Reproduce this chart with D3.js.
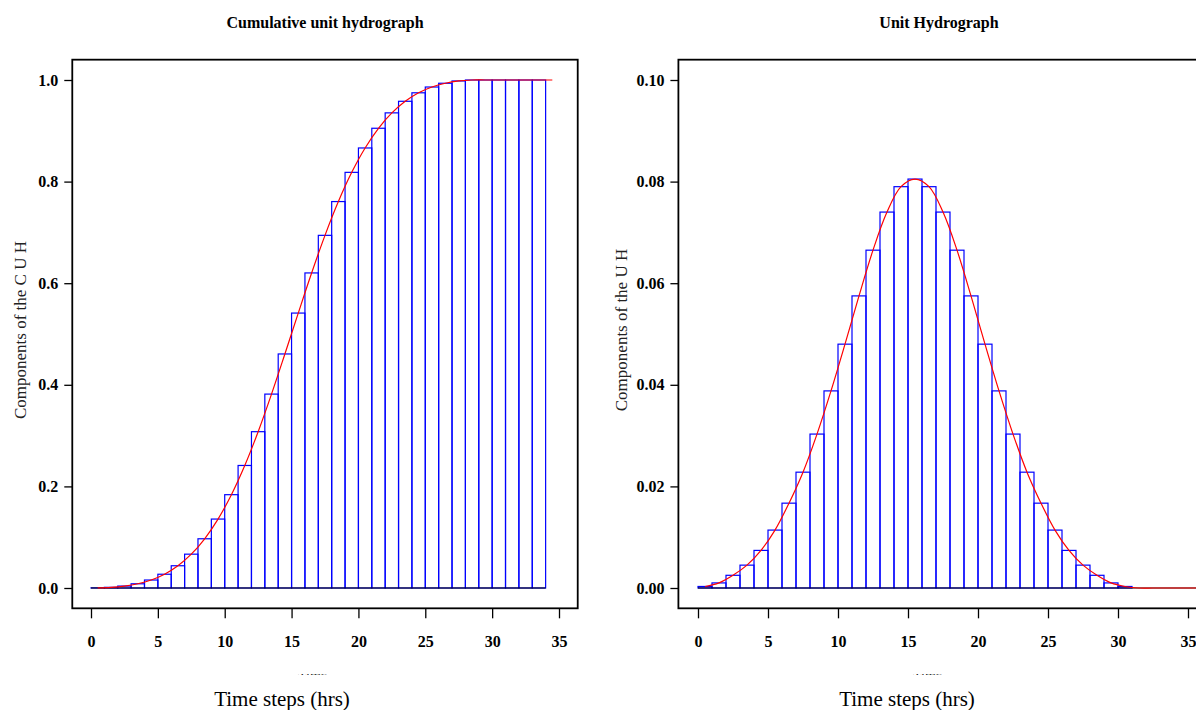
<!DOCTYPE html>
<html>
<head>
<meta charset="utf-8">
<script src="https://cdn.jsdelivr.net/npm/d3@7"></script>
<style>
  body { margin: 0; background: #fff; }
  svg { display: block; }
  .tick text { font-family: "Liberation Serif", serif; font-weight: bold; font-size: 16px; fill: #000; }
  .tick line { stroke: #000; stroke-width: 1.3; }
</style>
</head>
<body>
<div id="chart"></div>
<script>
// time steps (hrs) and ordinates
var uh = [0.0003, 0.0010, 0.0025, 0.0045, 0.0074, 0.0114, 0.0167, 0.0228, 0.0303, 0.0388,
          0.0480, 0.0575, 0.0665, 0.0740, 0.0790, 0.0805, 0.0790, 0.0740, 0.0665, 0.0575,
          0.0480, 0.0388, 0.0303, 0.0228, 0.0167, 0.0114, 0.0074, 0.0045, 0.0025, 0.0010,
          0.0003, 0, 0, 0, 0, 0, 0];
var cuh = [0.0003, 0.0013, 0.0038, 0.0083, 0.0157, 0.0271, 0.0438, 0.0666, 0.0969, 0.1357,
           0.1837, 0.2412, 0.3077, 0.3817, 0.4607, 0.5412, 0.6202, 0.6942, 0.7607, 0.8182,
           0.8662, 0.9050, 0.9353, 0.9581, 0.9748, 0.9862, 0.9936, 0.9981, 1.0, 1.0,
           1.0, 1.0, 1.0, 1.0, 1.0];
var cuhBars = 34;   // bars drawn for the first 34 steps, curve runs one step further
var uhBars = 37;
var xTicks = [0, 5, 10, 15, 20, 25, 30, 35];
var cuhTicks = [0, 0.2, 0.4, 0.6, 0.8, 1.0];
var uhTicks = [0, 0.02, 0.04, 0.06, 0.08, 0.10];

var width = 1196, height = 710;

var svg = d3.select("#chart").append("svg")
    .attr("width", width)
    .attr("height", height);

function drawPanel(opt) {
    var x = d3.scaleLinear().domain([0, 35]).range(opt.xRange);
    var y = d3.scaleLinear().domain([0, opt.yMax]).range([588, 80]);

    var g = svg.append("g");

    // bars: blue outline, one per time step
    var bars = opt.values.slice(0, opt.nBars);
    g.selectAll("rect.bar")
        .data(bars)
        .enter()
        .append("rect")
        .attr("class", "bar")
        .attr("x", function (d, i) { return x(i); })
        .attr("y", function (d) { return y(d); })
        .attr("width", function (d, i) { return x(i + 1) - x(i); })
        .attr("height", function (d) { return y(0) - y(d); })
        .attr("fill", "none")
        .attr("stroke", "#0000ff")
        .attr("stroke-width", 1.2);

    // black base line under the bars
    g.append("line")
        .attr("x1", x(0))
        .attr("x2", x(opt.nBars))
        .attr("y1", y(0))
        .attr("y2", y(0))
        .attr("stroke", "#000")
        .attr("stroke-width", 1.2);

    // red smooth curve through the bar mid points
    var line = d3.line()
        .x(function (d, i) { return x(i + 0.5); })
        .y(function (d) { return y(d); })
        .curve(d3.curveCatmullRom);
    g.append("path")
        .datum(opt.values)
        .attr("d", line)
        .attr("fill", "none")
        .attr("stroke", "#ff0000")
        .attr("stroke-width", 1.2);

    // frame
    var fx0 = x(-1.4), fx1 = x(36.4);
    var fy0 = y(opt.yMax * 1.04), fy1 = y(-opt.yMax * 0.04);
    g.append("rect")
        .attr("x", fx0)
        .attr("y", fy0)
        .attr("width", fx1 - fx0)
        .attr("height", fy1 - fy0)
        .attr("fill", "none")
        .attr("stroke", "#000")
        .attr("stroke-width", 1.8);

    // axes
    var xAxis = g.append("g")
        .attr("transform", "translate(0," + fy1 + ")")
        .call(d3.axisBottom(x).tickValues(xTicks).tickSize(10).tickPadding(17));
    xAxis.select(".domain").remove();

    var yAxis = g.append("g")
        .attr("transform", "translate(" + fx0 + ",0)")
        .call(d3.axisLeft(y).tickValues(opt.yTicks).tickSize(8).tickPadding(6)
            .tickFormat(d3.format(opt.fmt)));
    yAxis.select(".domain").remove();

    // title
    g.append("text")
        .attr("x", opt.titleX)
        .attr("y", 28)
        .attr("text-anchor", "middle")
        .style("font-family", "Liberation Serif, serif")
        .style("font-weight", "bold")
        .style("font-size", "16px")
        .text(opt.title);

    // y label
    g.append("text")
        .attr("transform", "translate(" + opt.ylabX + ",330) rotate(-90)")
        .attr("text-anchor", "middle")
        .style("font-family", "Liberation Serif, serif")
        .style("font-size", "17px")
        .style("fill", "#222")
        .text(opt.ylab);

    // squashed leftover label under the axis
    g.append("text")
        .attr("transform", "translate(" + opt.tinyX + ",675) scale(1,0.2)")
        .style("font-family", "Liberation Serif, serif")
        .style("font-size", "14px")
        .style("fill", "#222")
        .text("Time");

    // x label
    g.append("text")
        .attr("x", opt.xlabX)
        .attr("y", 706)
        .attr("text-anchor", "middle")
        .style("font-family", "Liberation Serif, serif")
        .style("font-size", "21px")
        .style("fill", "#000")
        .text("Time steps (hrs)");
}

drawPanel({
    values: cuh, nBars: cuhBars, yMax: 1.0, yTicks: cuhTicks, fmt: ".1f",
    xRange: [91, 559], title: "Cumulative unit hydrograph", titleX: 325,
    ylab: "Components of the C U H", ylabX: 26, xlabX: 282, tinyX: 298
});

drawPanel({
    values: uh, nBars: uhBars, yMax: 0.10, yTicks: uhTicks, fmt: ".2f",
    xRange: [698, 1188], title: "Unit Hydrograph", titleX: 939,
    ylab: "Components of the U H", ylabX: 627, xlabX: 907, tinyX: 913
});
</script>
</body>
</html>
